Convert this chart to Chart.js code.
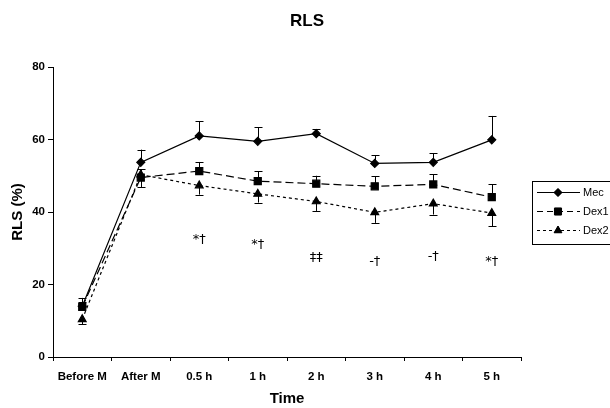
<!DOCTYPE html>
<html>
<head>
<meta charset="utf-8">
<script src="https://cdn.jsdelivr.net/npm/chart.js@4.4.1/dist/chart.umd.min.js"></script>
<style>
  html, body { margin: 0; padding: 0; background: #fff; }
  #wrap { width: 610px; height: 408px; position: relative; }
</style>
</head>
<body>
<div id="wrap"><canvas id="rlsChart" width="610" height="408"></canvas></div>
<script>
// Data
const timeLabels = ['Before M', 'After M', '0.5 h', '1 h', '2 h', '3 h', '4 h', '5 h'];
const mecValues  = [14.0, 53.7, 61.0, 59.5, 61.6, 53.4, 53.7, 59.9];
const mecErr     = [2.3, 3.5, 4.1, 3.9, 1.3, 2.2, 2.5, 6.6];
const dex1Values = [13.8, 49.5, 51.3, 48.5, 47.8, 47.1, 47.6, 44.1];
const dex1Err    = [1.5, 2.3, 2.5, 2.7, 2.2, 2.8, 2.8, 3.5];
const dex2Values = [10.4, 50.3, 47.3, 45.0, 42.9, 39.9, 42.3, 39.7];
const dex2Err    = [1.3, 3.5, 2.5, 2.4, 2.6, 2.9, 3.0, 3.6];

// Significance marks under each time point
const sigLabels = ['', '', '*\u2020', '*\u2020', '\u2021\u2021', '-\u2020', '-\u2020', '*\u2020'];
const sigY      = [null, null, 32.5, 31.0, 27.3, 26.2, 27.6, 26.2];

Chart.defaults.font.family = '"Liberation Sans", Arial, sans-serif';
Chart.defaults.color = '#000';

// error bars: +1 = upward, -1 = downward
const errInfo = [
    { err: mecErr, dir: 1 },
    { err: dex1Err, dir: 1 },
    { err: dex2Err, dir: -1 }
];

const errorBarPlugin = {
    id: 'errorBars',
    beforeDatasetsDraw(chart) {
        const ctx = chart.ctx;
        const y = chart.scales.y;
        ctx.save();
        ctx.strokeStyle = '#000';
        ctx.lineWidth = 1;
        chart.data.datasets.forEach((ds, i) => {
            const meta = chart.getDatasetMeta(i);
            const info = errInfo[i];
            meta.data.forEach((pt, j) => {
                const v = ds.data[j];
                const yEnd = y.getPixelForValue(v + info.dir * info.err[j]);
                const x = Math.round(pt.x) + 0.5;
                ctx.beginPath();
                ctx.moveTo(x, pt.y);
                ctx.lineTo(x, yEnd);
                ctx.moveTo(x - 4, Math.round(yEnd) + 0.5);
                ctx.lineTo(x + 4, Math.round(yEnd) + 0.5);
                ctx.stroke();
            });
        });
        ctx.restore();
    }
};

const textPlugin = {
    id: 'extraText',
    afterDraw(chart) {
        const ctx = chart.ctx;
        const xs = chart.scales.x;
        const ys = chart.scales.y;
        const area = chart.chartArea;
        ctx.save();
        ctx.fillStyle = '#000';

        // title
        ctx.font = 'bold 17px "Liberation Sans", Arial, sans-serif';
        ctx.textAlign = 'center';
        ctx.textBaseline = 'middle';
        ctx.fillText('RLS', 307, 21);

        // x axis title
        ctx.font = 'bold 15px "Liberation Sans", Arial, sans-serif';
        ctx.fillText('Time', (area.left + area.right) / 2, 399);

        // y axis title
        ctx.save();
        ctx.translate(18, (area.top + area.bottom) / 2);
        ctx.rotate(-Math.PI / 2);
        ctx.fillText('RLS (%)', 0, 0);
        ctx.restore();

        // significance marks
        ctx.font = '13px "DejaVu Sans", sans-serif';
        sigLabels.forEach((s, i) => {
            if (!s) return;
            ctx.fillText(s, xs.getPixelForValue(i), ys.getPixelForValue(sigY[i]));
        });

        // legend
        const bx = 532.5, by = 181.5;
        ctx.strokeStyle = '#000';
        ctx.lineWidth = 1;
        ctx.strokeRect(bx, by, 90, 63);
        const rows = [
            { label: 'Mec', y: 192, dash: [], style: 'rectRot', r: 4 },
            { label: 'Dex1', y: 211, dash: [6, 4], style: 'rect', r: 5 },
            { label: 'Dex2', y: 230, dash: [3, 3], style: 'triangle', r: 4.5 }
        ];
        ctx.font = '11px "Liberation Sans", Arial, sans-serif';
        ctx.textAlign = 'left';
        rows.forEach(row => {
            ctx.save();
            ctx.setLineDash(row.dash);
            ctx.beginPath();
            ctx.moveTo(537, row.y + 0.5);
            ctx.lineTo(580, row.y + 0.5);
            ctx.stroke();
            ctx.restore();
            Chart.helpers.drawPoint(ctx, { pointStyle: row.style, radius: row.r, borderWidth: 1 }, 558, row.y + 0.5);
            ctx.fill();
            ctx.fillText(row.label, 583, row.y + 1);
        });
        ctx.restore();
    }
};

new Chart(document.getElementById('rlsChart'), {
    type: 'line',
    data: {
        labels: timeLabels,
        datasets: [{
            label: 'Mec',
            data: mecValues,
            borderColor: '#000',
            backgroundColor: '#000',
            borderWidth: 1.2,
            pointStyle: 'rectRot',
            pointRadius: 4,
            tension: 0
        }, {
            label: 'Dex1',
            data: dex1Values,
            borderColor: '#000',
            backgroundColor: '#000',
            borderWidth: 1.2,
            borderDash: [8, 4],
            pointStyle: 'rect',
            pointRadius: 5,
            tension: 0
        }, {
            label: 'Dex2',
            data: dex2Values,
            borderColor: '#000',
            backgroundColor: '#000',
            borderWidth: 1.2,
            borderDash: [3, 3],
            pointStyle: 'triangle',
            pointRadius: 4.5,
            tension: 0
        }]
    },
    options: {
        responsive: false,
        animation: false,
        devicePixelRatio: 1,
        layout: {
            padding: { top: 67, right: 89, left: 0, bottom: 0 }
        },
        plugins: {
            legend: { display: false },
            title: { display: false },
            tooltip: { enabled: false }
        },
        scales: {
            x: {
                type: 'category',
                offset: true,
                afterFit: s => { s.height = 51; },
                grid: {
                    offset: true,
                    drawOnChartArea: false,
                    drawTicks: true,
                    tickLength: 4,
                    color: '#000'
                },
                border: { display: true, color: '#000', width: 1 },
                ticks: {
                    font: { size: 11.5, weight: 'bold' },
                    color: '#000',
                    padding: 9,
                    maxRotation: 0,
                    autoSkip: false
                }
            },
            y: {
                min: 0,
                max: 80,
                afterFit: s => { s.width = 53; },
                grid: {
                    drawOnChartArea: false,
                    drawTicks: true,
                    tickLength: 5,
                    color: '#000'
                },
                border: { display: true, color: '#000', width: 1 },
                ticks: {
                    stepSize: 20,
                    font: { size: 11.5, weight: 'bold' },
                    color: '#000',
                    padding: 3
                }
            }
        }
    },
    plugins: [errorBarPlugin, textPlugin]
});
</script>
</body>
</html>
